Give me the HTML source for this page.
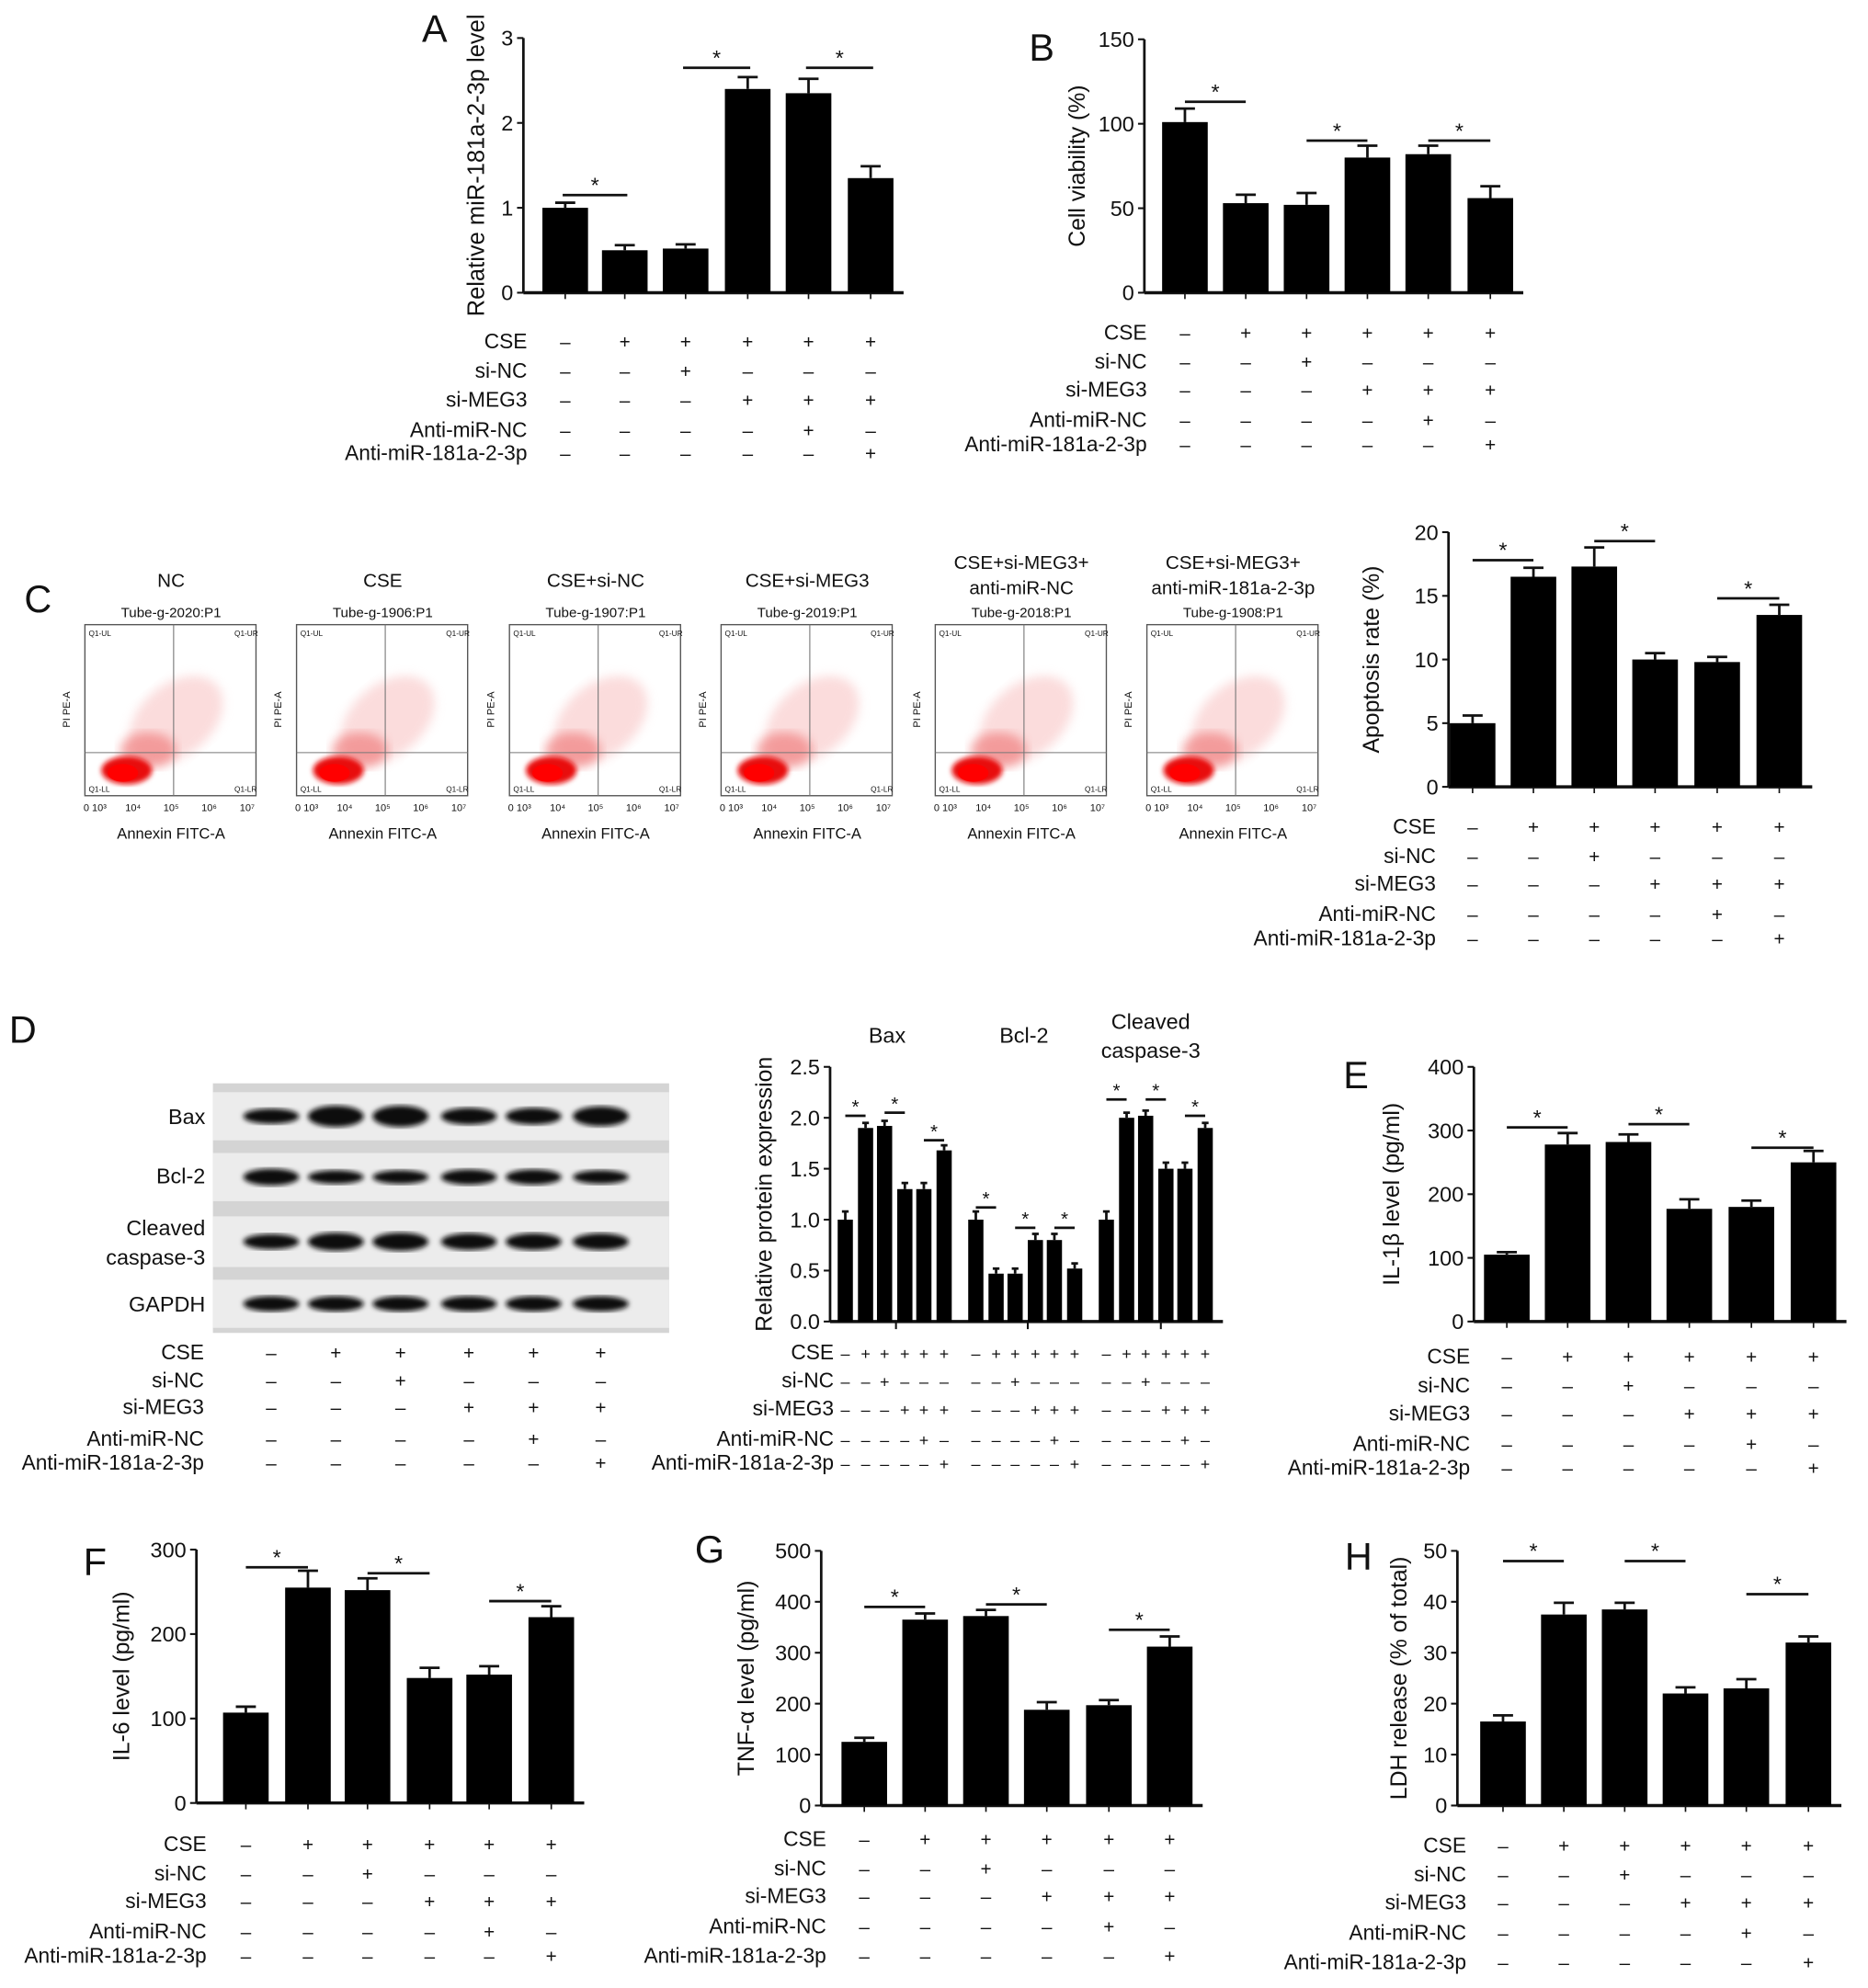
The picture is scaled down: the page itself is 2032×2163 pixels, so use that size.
<!DOCTYPE html>
<html><head><meta charset="utf-8"><style>
html,body{margin:0;padding:0;background:#fff}
svg{display:block}
text{font-family:"Liberation Sans",Arial,sans-serif;fill:#111}
</style></head><body>
<svg id="fig" width="2032" height="2163" viewBox="0 0 1474 1569" xmlns="http://www.w3.org/2000/svg">
<defs>
<filter id="blur2"><feGaussianBlur stdDeviation="2"/></filter>
<filter id="blur4"><feGaussianBlur stdDeviation="4"/></filter>
<filter id="blur1"><feGaussianBlur stdDeviation="1"/></filter>
</defs>
<g id="root"></g>
</svg>
<script>
// ---------------- DATA ----------------
const condLabels = ["CSE","si-NC","si-MEG3","Anti-miR-NC","Anti-miR-181a-2-3p"];
const condPattern = ["-+++++","--+---","---+++","----+-","-----+"];

const aValues = [1.0,0.5,0.52,2.4,2.35,1.35];
const aErrors = [0.06,0.06,0.05,0.14,0.17,0.14];
const aTicks = [0,1,2,3];
const aSig = [[0,1,1.15],[2,3,2.65],[4,5,2.65]];

const bValues = [101,53,52,80,82,56];
const bErrors = [8,5,7,7,5,7];
const bTicks = [0,50,100,150];
const bSig = [[0,1,113],[2,3,90],[4,5,90]];

const cValues = [5.0,16.5,17.3,10.0,9.8,13.5];
const cErrors = [0.6,0.7,1.5,0.5,0.4,0.8];
const cTicks = [0,5,10,15,20];
const cSig = [[0,1,17.8],[2,3,19.3],[4,5,14.8]];

const dBax = [1.0,1.9,1.92,1.3,1.3,1.68];
const dBcl2 = [1.0,0.47,0.47,0.8,0.8,0.52];
const dCasp = [1.0,2.0,2.02,1.5,1.5,1.9];
const dErrors = [0.08,0.05,0.05,0.06,0.06,0.05];
const dTicks = [0.0,0.5,1.0,1.5,2.0,2.5];
const dTickLabels = ["0.0","0.5","1.0","1.5","2.0","2.5"];
const dGroups = ["Bax","Bcl-2","Cleaved caspase-3"];
const dSigHeights = [[2.02,2.05,1.78],[1.12,0.92,0.92],[2.18,2.18,2.02]];

const eValues = [105,278,282,177,180,250];
const eErrors = [4,18,12,15,10,18];
const eTicks = [0,100,200,300,400];
const eSig = [[0,1,305],[2,3,310],[4,5,273]];

const fValues = [107,255,252,148,152,220];
const fErrors = [7,20,14,12,10,13];
const fTicks = [0,100,200,300];
const fSig = [[0,1,279],[2,3,272],[4,5,239]];

const gValues = [125,365,372,188,197,312];
const gErrors = [8,12,12,15,10,20];
const gTicks = [0,100,200,300,400,500];
const gSig = [[0,1,390],[2,3,395],[4,5,345]];

const hValues = [16.5,37.5,38.5,22,23,32];
const hErrors = [1.2,2.3,1.3,1.2,1.8,1.2];
const hTicks = [0,10,20,30,40,50];
const hSig = [[0,1,48],[2,3,48],[4,5,41.5]];

const flowTitles = [["NC"],["CSE"],["CSE+si-NC"],["CSE+si-MEG3"],["CSE+si-MEG3+","anti-miR-NC"],["CSE+si-MEG3+","anti-miR-181a-2-3p"]];
const flowTubes = ["Tube-g-2020:P1","Tube-g-1906:P1","Tube-g-1907:P1","Tube-g-2019:P1","Tube-g-2018:P1","Tube-g-1908:P1"];

// ---------------- HELPERS ----------------
const NS="http://www.w3.org/2000/svg";
const root=document.getElementById('root');
function el(tag,attrs,parent,txt){const e=document.createElementNS(NS,tag);for(const k in attrs)e.setAttribute(k,attrs[k]);if(txt!==undefined)e.textContent=txt;(parent||root).appendChild(e);return e;}
function grp(name){const g=el('g',{});


return g;}

function panelLetter(g,ch,x,y){const t=el('text',{x:x,y:y,'font-size':30,'text-anchor':'middle'},g,ch);

}

function barChart(name,cfg){
  const g=grp(name);
  const ys=v=>cfg.y0-(v-cfg.vmin)/(cfg.vmax-cfg.vmin)*(cfg.y0-cfg.y1);
  const bw=cfg.bw||36;
  const ax=el('line',{x1:cfg.ax,y1:cfg.y1,x2:cfg.ax,y2:cfg.y0,stroke:'#111','stroke-width':2},g);
  
  
  cfg.ticks.forEach((t,i)=>{const y=ys(t);
    el('line',{x1:cfg.ax-5,y1:y,x2:cfg.ax,y2:y,stroke:'#111','stroke-width':1.5},g);
    const tl=el('text',{x:cfg.ax-8,y:y+6,'font-size':cfg.tfs||17,'text-anchor':'end'},g,cfg.tickLabels?cfg.tickLabels[i]:t);
    
    
  });
  const xEnd=cfg.xs[cfg.xs.length-1]+bw/2+8;
  const xa=el('line',{x1:cfg.ax,y1:cfg.y0,x2:xEnd,y2:cfg.y0,stroke:'#111','stroke-width':2.5},g);
  
  
  if(cfg.groupTicks){cfg.groupTicks.forEach(x=>el('line',{x1:x,y1:cfg.y0,x2:x,y2:cfg.y0+6,stroke:'#111','stroke-width':1.5},g));}
  cfg.values.forEach((v,i)=>{const x=cfg.xs[i];const top=ys(v);
    if(!cfg.groupTicks) el('line',{x1:x,y1:cfg.y0,x2:x,y2:cfg.y0+5,stroke:'#111','stroke-width':1.2},g);
    const e=cfg.errors[i%cfg.errors.length];
    const et=ys(v+e);
    const eb=el('path',{d:`M${x} ${top}V${et}M${x-bw*0.22} ${et}H${x+bw*0.22}`,stroke:'#111','stroke-width':2,fill:'none'},g);
    
    
    const r=el('rect',{x:x-bw/2,y:top,width:bw,height:cfg.y0-top,fill:'#000'},g);
    
    
  });
  (cfg.sig||[]).forEach(s=>{const y=ys(s[2]);const xa1=cfg.xs[s[0]],xb=cfg.xs[s[1]];
    const off=cfg.sigInset||0;
    const l=el('line',{x1:xa1-off,y1:y,x2:xb+off,y2:y,stroke:'#111','stroke-width':2},g);
    
    
    const st=el('text',{x:(xa1+xb)/2,y:y-2,'font-size':cfg.sfs||17,'text-anchor':'middle'},g,'*');
    
    
  });
  const tx=cfg.titleX, ty=(cfg.y0+cfg.y1)/2+(cfg.titleDy||0);
  const tt=el('text',{x:0,y:0,'font-size':cfg.titleFs||18,'text-anchor':'middle',transform:`translate(${tx},${ty}) rotate(-90)`},g,cfg.title);
  
  
  return g;
}

function condTable(name,labelX,xs,rows,fs,labelFs){
  const g=grp(name);
  condLabels.forEach((lab,r)=>{
    const t=el('text',{x:labelX,y:rows[r]+5,'font-size':labelFs||16.5,'text-anchor':'end'},g,lab);
    
    
    const pat=condPattern[r];
    xs.forEach((x,i)=>{const c=pat[i%6];
      const s=el('text',{x:x,y:rows[r]+5,'font-size':fs||15,'text-anchor':'middle'},g,c==='+'?'+':'–');
      
      
    });
  });
}

// ---------------- PANEL A ----------------
const gA=grp('panel-a');
panelLetter(gA,'A',343,33);
const aXs=[446,493,541,590,638,687];
barChart('chart-a',{ax:413,y0:231,y1:30,vmin:0,vmax:3,ticks:aTicks,values:aValues,errors:aErrors,xs:aXs,sig:aSig,title:'Relative miR-181a-2-3p level',titleX:382,titleFs:18.5,sigInset:2});
condTable('table-a',416,aXs,[270,293,316,340,358]);

// ---------------- PANEL B ----------------
panelLetter(grp('panel-b'),'B',822,48);
const bXs=[935,983,1031,1079,1127,1176];
barChart('chart-b',{ax:903,y0:231,y1:31,vmin:0,vmax:150,ticks:bTicks,values:bValues,errors:bErrors,xs:bXs,sig:bSig,title:'Cell viability (%)',titleX:856});
condTable('table-b',905,bXs,[263,286,308,332,351]);

// ---------------- PANEL C ----------------
panelLetter(grp('panel-c'),'C',30,483);
const cXs=[1162,1210,1258,1306,1355,1404];
barChart('chart-c',{ax:1143,y0:621,y1:420,vmin:0,vmax:20,ticks:cTicks,values:cValues,errors:cErrors,xs:cXs,sig:cSig,title:'Apoptosis rate (%)',titleX:1088});
condTable('table-c',1133,cXs,[653,676,698,722,741]);

// flow plots
const flowX=[67,234,402,569,738,905];
flowX.forEach((fx,i)=>{
  const g=grp('flow-plot-'+(i+1));
  const cx=fx+68;
  const tl=flowTitles[i];
  if(tl.length===1){el('text',{x:cx,y:463,'font-size':15,'text-anchor':'middle'},g,tl[0]);}
  else{el('text',{x:cx,y:449,'font-size':15,'text-anchor':'middle'},g,tl[0]);el('text',{x:cx,y:469,'font-size':15,'text-anchor':'middle'},g,tl[1]);}
  el('text',{x:cx,y:487,'font-size':11,'text-anchor':'middle'},g,flowTubes[i]);
  el('rect',{x:fx,y:493,width:135,height:135,fill:'#fff',stroke:'#555','stroke-width':1},g);
  el('ellipse',{cx:fx+72,cy:568,rx:42,ry:28,fill:'#f8c0c0',opacity:0.55,filter:'url(#blur4)',transform:`rotate(-40 ${fx+72} 568)`},g);
  el('ellipse',{cx:fx+50,cy:592,rx:22,ry:14,fill:'#f08080',opacity:0.7,filter:'url(#blur4)'},g);
  el('ellipse',{cx:fx+33,cy:608,rx:20,ry:11,fill:'#e81010',filter:'url(#blur2)'},g);
  el('ellipse',{cx:fx+30,cy:610,rx:12,ry:7,fill:'#ff0000'},g);
  el('line',{x1:fx+70,y1:493,x2:fx+70,y2:628,stroke:'#777','stroke-width':0.8},g);
  el('line',{x1:fx,y1:594,x2:fx+135,y2:594,stroke:'#777','stroke-width':0.8},g);
  el('text',{x:fx+3,y:502,'font-size':6},g,'Q1-UL');
  el('text',{x:fx+118,y:502,'font-size':6},g,'Q1-UR');
  el('text',{x:fx+3,y:625,'font-size':6},g,'Q1-LL');
  el('text',{x:fx+118,y:625,'font-size':6},g,'Q1-LR');
  el('text',{x:0,y:0,'font-size':8,'text-anchor':'middle',transform:`translate(${fx-12},560) rotate(-90)`},g,'PI PE-A');
  ['0 10³','10⁴','10⁵','10⁶','10⁷'].forEach((t,k)=>{el('text',{x:fx+8+k*30,y:640,'font-size':8,'text-anchor':'middle'},g,t);});
  el('text',{x:cx,y:662,'font-size':12,'text-anchor':'middle'},g,'Annexin FITC-A');
});

// ---------------- PANEL D ----------------
panelLetter(grp('panel-d'),'D',18,823);
const blot=grp('western-blot');
el('rect',{x:168,y:855,width:360,height:197,fill:'#d4d4d4'},blot);
const blotRows=[[862,900,'Bax',[1,1.4,1.4,1.1,1.1,1.3]],[910,948,'Bcl-2',[1.1,0.9,0.9,1,1,0.9]],[960,1000,'Cleaved',[1,1.2,1.2,1.1,1.1,1.1]],[1010,1048,'GAPDH',[1,1,1,1,1,1]]];
const laneX=[214,265,316,370,421,474];
blotRows.forEach(r=>{
  el('rect',{x:168,y:r[0],width:360,height:r[1]-r[0],fill:'#ececec'},blot);
  laneX.forEach((lx,k)=>{el('ellipse',{cx:lx,cy:(r[0]+r[1])/2,rx:22,ry:6*r[3][k],fill:'#111',filter:'url(#blur2)'},blot);});
});
[['Bax',887],['Bcl-2',934],['Cleaved',975],['caspase-3',998],['GAPDH',1035]].forEach(l=>{
  const t=el('text',{x:162,y:l[1],'font-size':17,'text-anchor':'end'},blot,l[0]);
  
  
});
condTable('table-d-blot',161,laneX,[1068,1090,1111,1136,1155]);

const dXs=[667,683,698,714,729,745,770,786,801,817,832,848,873,889,904,920,935,951];
const dValues=dBax.concat(dBcl2,dCasp);
const dSig=[];
dSigHeights.forEach((hs,gi)=>{hs.forEach((h,p)=>{dSig.push([gi*6+p*2,gi*6+p*2+1,h]);});});
barChart('chart-d',{ax:655,y0:1043,y1:842,vmin:0,vmax:2.5,ticks:dTicks,tickLabels:dTickLabels,values:dValues,errors:dErrors,xs:dXs,sig:dSig,bw:12,sfs:15,title:'Relative protein expression',titleX:609,groupTicks:[707,811,916]});
const dg=grp('chart-d-group-titles');
el('text',{x:700,y:823,'font-size':17,'text-anchor':'middle'},dg,'Bax');
el('text',{x:808,y:823,'font-size':17,'text-anchor':'middle'},dg,'Bcl-2');
el('text',{x:908,y:812,'font-size':17,'text-anchor':'middle'},dg,'Cleaved');
el('text',{x:908,y:835,'font-size':17,'text-anchor':'middle'},dg,'caspase-3');
condTable('table-d-chart',658,dXs,[1068,1090,1112,1136,1155],13);

// ---------------- PANEL E ----------------
panelLetter(grp('panel-e'),'E',1070,859);
const eXs=[1189,1237,1285,1333,1382,1431];
barChart('chart-e',{ax:1163,y0:1043,y1:842,vmin:0,vmax:400,ticks:eTicks,values:eValues,errors:eErrors,xs:eXs,sig:eSig,title:'IL-1β level (pg/ml)',titleX:1104});
condTable('table-e',1160,eXs,[1071,1094,1116,1140,1159]);

// ---------------- PANEL F ----------------
panelLetter(grp('panel-f'),'F',75,1243);
const fXs=[194,243,290,339,386,435];
barChart('chart-f',{ax:155,y0:1423,y1:1223,vmin:0,vmax:300,ticks:fTicks,values:fValues,errors:fErrors,xs:fXs,sig:fSig,title:'IL-6 level (pg/ml)',titleX:102});
condTable('table-f',163,fXs,[1456,1479,1501,1525,1544]);

// ---------------- PANEL G ----------------
panelLetter(grp('panel-g'),'G',560,1233);
const gXs=[682,730,778,826,875,923];
barChart('chart-g',{ax:648,y0:1425,y1:1224,vmin:0,vmax:500,ticks:gTicks,values:gValues,errors:gErrors,xs:gXs,sig:gSig,title:'TNF-α level (pg/ml)',titleX:595});
condTable('table-g',652,gXs,[1452,1475,1497,1521,1544]);

// ---------------- PANEL H ----------------
panelLetter(grp('panel-h'),'H',1072,1239);
const hXs=[1186,1234,1282,1330,1378,1427];
barChart('chart-h',{ax:1150,y0:1425,y1:1224,vmin:0,vmax:50,ticks:hTicks,values:hValues,errors:hErrors,xs:hXs,sig:hSig,title:'LDH release (% of total)',titleX:1110});
condTable('table-h',1157,hXs,[1457,1480,1502,1526,1549]);
</script>
</body></html>
